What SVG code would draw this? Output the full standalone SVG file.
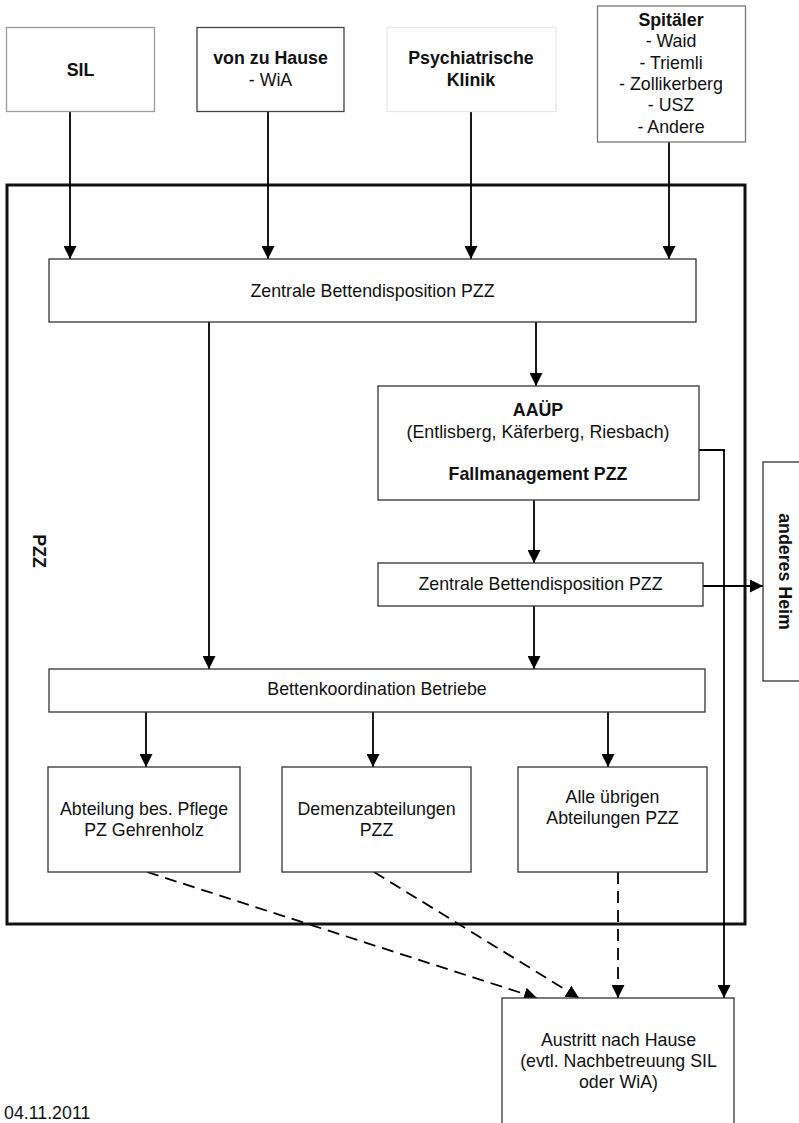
<svg xmlns="http://www.w3.org/2000/svg" width="799" height="1123" viewBox="0 0 799 1123">
<style>
text{font-family:"Liberation Sans",Arial,sans-serif;font-size:17.8px;fill:#111;text-anchor:middle}
.b{font-weight:bold}
.box{fill:#fff;stroke:#333;stroke-width:1.3}
.c{fill:none;stroke:#000;stroke-width:1.8}
.d{fill:none;stroke:#000;stroke-width:1.8;stroke-dasharray:12 7}
</style>
<defs>
<marker id="ah" markerUnits="userSpaceOnUse" markerWidth="13" markerHeight="13" refX="13" refY="6.5" orient="auto">
<path d="M0,0 L13,6.5 L0,13 z" fill="#000"/>
</marker>
</defs>
<rect width="799" height="1123" fill="#fff"/>
<g id="pzz">
<rect x="7" y="185" width="738" height="739" fill="none" stroke="#111" stroke-width="3"/>
<text class="b" transform="translate(33,551) rotate(90)">PZZ</text>
</g>
<g id="connectors">
<line class="c" x1="70" y1="112" x2="70" y2="259" marker-end="url(#ah)"/>
<line class="c" x1="268" y1="112" x2="268" y2="259" marker-end="url(#ah)"/>
<line class="c" x1="471" y1="112" x2="471" y2="259" marker-end="url(#ah)"/>
<line class="c" x1="669" y1="142" x2="669" y2="259" marker-end="url(#ah)"/>
<line class="c" x1="209" y1="322" x2="209" y2="669" marker-end="url(#ah)"/>
<line class="c" x1="536" y1="322" x2="536" y2="386" marker-end="url(#ah)"/>
<line class="c" x1="534" y1="500" x2="534" y2="563" marker-end="url(#ah)"/>
<line class="c" x1="534" y1="606" x2="534" y2="669" marker-end="url(#ah)"/>
<polyline class="c" points="699,450 724,450 724,998" marker-end="url(#ah)"/>
<line class="c" x1="700" y1="586" x2="763" y2="586" marker-end="url(#ah)"/>
<line class="c" x1="146" y1="712" x2="146" y2="767" marker-end="url(#ah)"/>
<line class="c" x1="373" y1="712" x2="373" y2="767" marker-end="url(#ah)"/>
<line class="c" x1="608" y1="712" x2="608" y2="767" marker-end="url(#ah)"/>
<line class="d" x1="147" y1="872" x2="537" y2="998" marker-end="url(#ah)"/>
<line class="d" x1="374" y1="872" x2="579" y2="998" marker-end="url(#ah)"/>
<line class="d" x1="618" y1="872" x2="618" y2="998" marker-end="url(#ah)"/>
</g>
<g id="sil">
<rect x="6.5" y="27.5" width="148" height="84" fill="#fff" stroke="#9a9a9a" stroke-width="1.3"/>
<text class="b" x="80.5" y="76">SIL</text>
</g>
<g id="vonzuhause">
<rect x="197" y="27.5" width="147" height="84" fill="#fff" stroke="#444" stroke-width="1.3"/>
<text class="b" x="270.5" y="64">von zu Hause</text>
<text x="270.5" y="86">- WiA</text>
</g>
<g id="psychiatrische">
<rect x="387" y="27.5" width="169" height="84" fill="#fff" stroke="#e8e8e8" stroke-width="1.3"/>
<text class="b" x="471" y="64">Psychiatrische</text>
<text class="b" x="471" y="86">Klinik</text>
</g>
<g id="spitaeler">
<rect x="597.5" y="6" width="148" height="136" fill="#fff" stroke="#777" stroke-width="1.3"/>
<text class="b" x="671" y="26">Spitäler</text>
<text x="671" y="47.3">- Waid</text>
<text x="671" y="68.7">- Triemli</text>
<text x="671" y="90">- Zollikerberg</text>
<text x="671" y="111.3">- USZ</text>
<text x="671" y="132.7">- Andere</text>
</g>
<g id="zb1">
<rect class="box" x="49" y="259" width="647" height="63"/>
<text x="372.5" y="297">Zentrale Bettendisposition PZZ</text>
</g>
<g id="aaeup">
<rect class="box" x="378" y="386" width="321" height="114"/>
<text class="b" x="538" y="416">AAÜP</text>
<text x="538" y="438">(Entlisberg, Käferberg, Riesbach)</text>
<text class="b" x="538" y="480">Fallmanagement PZZ</text>
</g>
<g id="zb2">
<rect class="box" x="378" y="563" width="325" height="43"/>
<text x="540.5" y="590">Zentrale Bettendisposition PZZ</text>
</g>
<g id="andereheim">
<rect class="box" x="763" y="462" width="50" height="219"/>
<text class="b" transform="translate(779,571.5) rotate(90)">anderes Heim</text>
</g>
<g id="bk">
<rect class="box" x="49" y="669" width="656" height="43"/>
<text x="377" y="695">Bettenkoordination Betriebe</text>
</g>
<g id="abt1">
<rect class="box" x="48" y="767" width="192" height="105"/>
<text x="144" y="815">Abteilung bes. Pflege</text>
<text x="144" y="836">PZ Gehrenholz</text>
</g>
<g id="abt2">
<rect class="box" x="282" y="767" width="189" height="105"/>
<text x="376.5" y="815">Demenzabteilungen</text>
<text x="376.5" y="836">PZZ</text>
</g>
<g id="abt3">
<rect class="box" x="518" y="767" width="189" height="105"/>
<text x="612.5" y="803">Alle übrigen</text>
<text x="612.5" y="824">Abteilungen PZZ</text>
</g>
<g id="austritt">
<rect class="box" x="502" y="998" width="232" height="140"/>
<text x="618.5" y="1046">Austritt nach Hause</text>
<text x="618.5" y="1067">(evtl. Nachbetreuung SIL</text>
<text x="618.5" y="1088">oder WiA)</text>
</g>
<text x="4" y="1119" style="text-anchor:start">04.11.2011</text>
</svg>
